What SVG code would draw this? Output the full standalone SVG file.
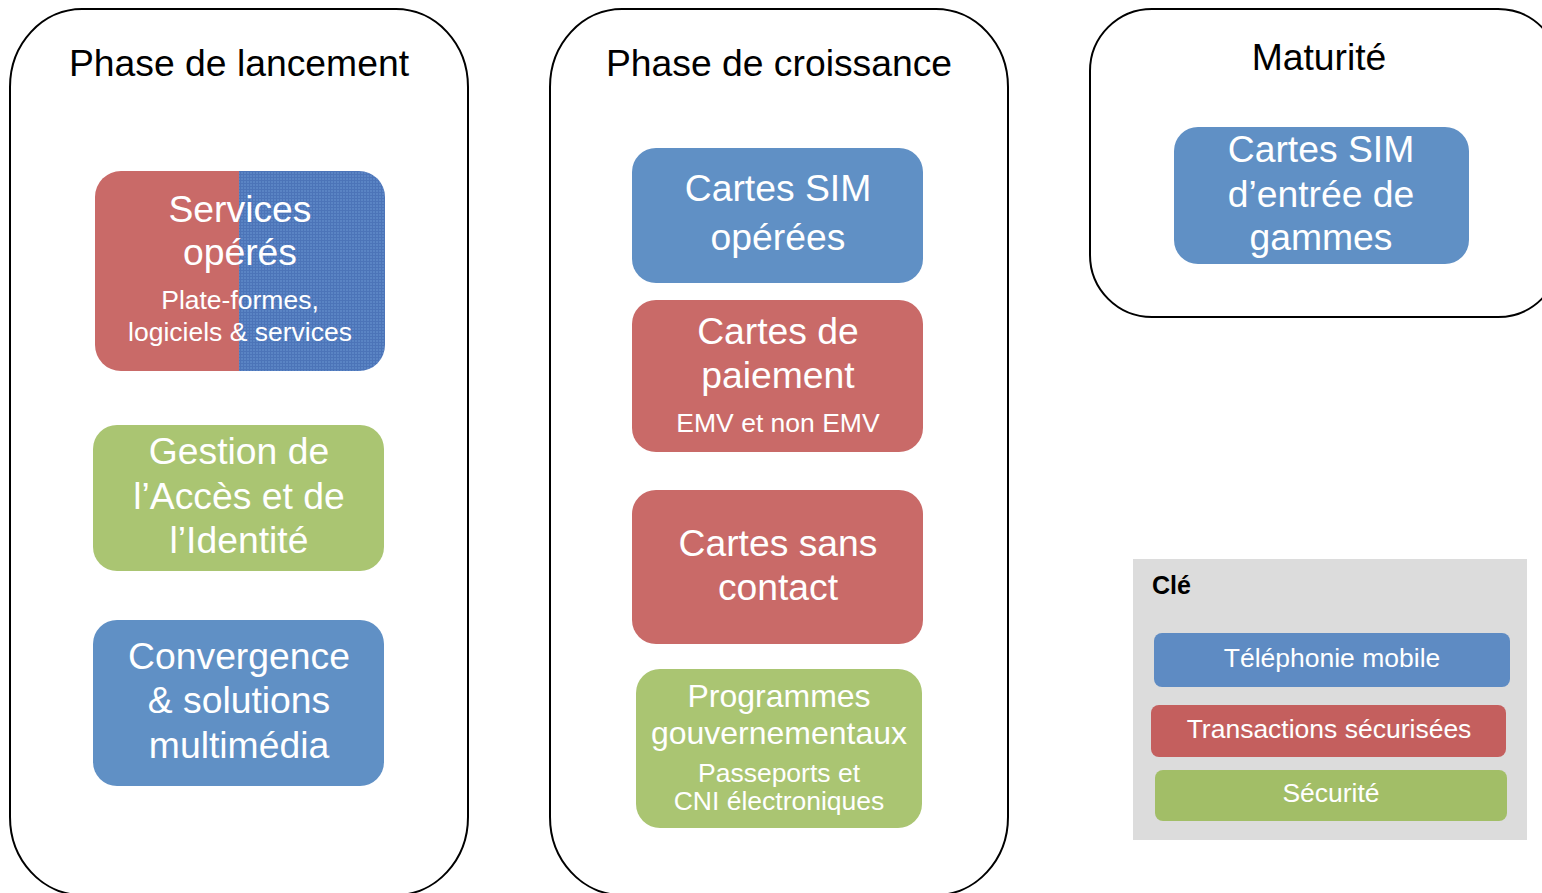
<svg xmlns="http://www.w3.org/2000/svg" width="1542" height="893" viewBox="0 0 1542 893">
<defs>
<style>
.phase{fill:#fff;stroke:#000;stroke-width:2}
.t{font-family:"Liberation Sans",Arial,sans-serif;text-anchor:middle}
.title{font-size:37.3px;fill:#000}
.big{font-size:37.3px;fill:#fff}
.small{font-size:26.5px;fill:#fff}
.blue{fill:#6090C5}
.red{fill:#C96A68}
.green{fill:#AAC572}
.leg{font-size:26.5px;fill:#fff}
</style>
<pattern id="mesh" width="3" height="3" patternUnits="userSpaceOnUse">
<rect width="3" height="3" fill="#5A84C4"/>
<path d="M0 0.5H3M0.5 0V3" stroke="#4C74B8" stroke-width="1"/>
</pattern>
<clipPath id="svcClip"><rect x="95" y="171" width="290" height="200" rx="26"/></clipPath>
</defs>
<rect width="1542" height="893" fill="#fff"/>

<g id="phase-lancement">
<rect class="phase" x="10" y="9" width="458" height="886" rx="72" ry="78"/>
<text class="t title" x="239" y="76">Phase de lancement</text>
</g>
<g id="phase-croissance">
<rect class="phase" x="550" y="9" width="458" height="886" rx="72" ry="78"/>
<text class="t title" x="779" y="76">Phase de croissance</text>
</g>
<g id="phase-maturite">
<rect class="phase" x="1090" y="9" width="470" height="308" rx="62" ry="62"/>
<text class="t title" x="1319" y="70">Maturité</text>
</g>

<g id="services-operes">
<g clip-path="url(#svcClip)">
<rect x="95" y="171" width="145" height="200" fill="#C96A68"/>
<rect x="239" y="171" width="146" height="200" fill="url(#mesh)"/>
</g>
<text class="t big" x="240" y="222">Services</text>
<text class="t big" x="240" y="265">opérés</text>
<text class="t small" x="240" y="309">Plate-formes,</text>
<text class="t small" x="240" y="341">logiciels &amp; services</text>
</g>

<g id="gestion-acces">
<rect class="green" x="93" y="425" width="291" height="146" rx="24"/>
<text class="t big" x="239" y="464">Gestion de</text>
<text class="t big" x="239" y="509">l’Accès et de</text>
<text class="t big" x="239" y="553">l’Identité</text>
</g>

<g id="convergence">
<rect class="blue" x="93" y="620" width="291" height="166" rx="24"/>
<text class="t big" x="239" y="669">Convergence</text>
<text class="t big" x="239" y="713">&amp; solutions</text>
<text class="t big" x="239" y="758">multimédia</text>
</g>

<g id="cartes-sim-operees">
<rect class="blue" x="632" y="148" width="291" height="135" rx="24"/>
<text class="t big" x="778" y="201">Cartes SIM</text>
<text class="t big" x="778" y="250">opérées</text>
</g>

<g id="cartes-paiement">
<rect class="red" x="632" y="300" width="291" height="152" rx="24"/>
<text class="t big" x="778" y="344">Cartes de</text>
<text class="t big" x="778" y="388">paiement</text>
<text class="t small" x="778" y="432">EMV et non EMV</text>
</g>

<g id="cartes-sans-contact">
<rect class="red" x="632" y="490" width="291" height="154" rx="24"/>
<text class="t big" x="778" y="556">Cartes sans</text>
<text class="t big" x="778" y="600">contact</text>
</g>

<g id="programmes-gouv">
<rect class="green" x="636" y="669" width="286" height="159" rx="24"/>
<text class="t" x="779" y="707" style="font-size:32px;fill:#fff">Programmes</text>
<text class="t" x="779" y="744" style="font-size:32px;fill:#fff">gouvernementaux</text>
<text class="t small" x="779" y="782">Passeports et</text>
<text class="t small" x="779" y="810">CNI électroniques</text>
</g>

<g id="cartes-sim-entree">
<rect class="blue" x="1174" y="127" width="295" height="137" rx="24"/>
<text class="t big" x="1321" y="162">Cartes SIM</text>
<text class="t big" x="1321" y="207">d’entrée de</text>
<text class="t big" x="1321" y="250">gammes</text>
</g>

<g id="legende">
<rect x="1133" y="559" width="394" height="281" fill="#DCDCDC"/>
<text x="1152" y="594" style="font-family:'Liberation Sans',Arial,sans-serif;font-size:25px;font-weight:bold;fill:#000">Clé</text>
<rect x="1154" y="633" width="356" height="54" rx="8" fill="#5E8BC3"/>
<text class="t leg" x="1332" y="667">Téléphonie mobile</text>
<rect x="1151" y="705" width="355" height="52" rx="8" fill="#C45F5E"/>
<text class="t leg" x="1329" y="738">Transactions sécurisées</text>
<rect x="1155" y="770" width="352" height="51" rx="8" fill="#A2BE67"/>
<text class="t leg" x="1331" y="802">Sécurité</text>
</g>

<g id="connectors"></g>
</svg>
